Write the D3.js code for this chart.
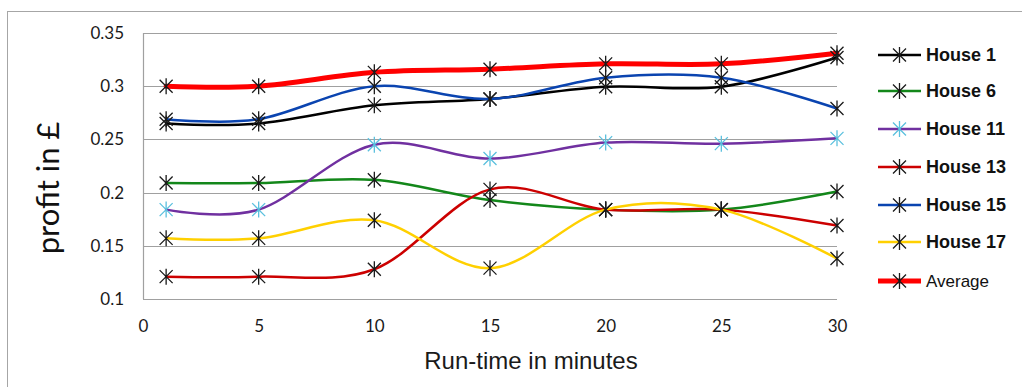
<!DOCTYPE html>
<html><head><meta charset="utf-8">
<script src="https://cdn.jsdelivr.net/npm/d3@7"></script>
<style>body{margin:0;background:#fff}svg{display:block}</style>
</head><body>
<script>
const minutes = [1, 5, 10, 15, 20, 25, 30];
const house1  = [0.265, 0.265, 0.282, 0.288, 0.2995, 0.2995, 0.327];
const house6  = [0.209, 0.209, 0.212, 0.193, 0.184, 0.184, 0.201];
const house11 = [0.184, 0.184, 0.245, 0.232, 0.247, 0.246, 0.251];
const house13 = [0.121, 0.121, 0.128, 0.203, 0.184, 0.184, 0.169];
const house15 = [0.269, 0.269, 0.300, 0.288, 0.308, 0.308, 0.279];
const house17 = [0.157, 0.157, 0.174, 0.129, 0.184, 0.184, 0.138];
const average = [0.300, 0.300, 0.313, 0.316, 0.321, 0.321, 0.331];
const seriesNames = ["House 1","House 6","House 11","House 13","House 15","House 17","Average"];
const xTicks = [0, 5, 10, 15, 20, 25, 30];
const yTicks = [0.1, 0.15, 0.2, 0.25, 0.3, 0.35];
const yTickLabels = ["0.1","0.15","0.2","0.25","0.3","0.35"];

const series = [
  {name: seriesNames[0], values: house1,  color: "#000000", marker: "#1a1a1a", width: 2.5},
  {name: seriesNames[1], values: house6,  color: "#13871a", marker: "#1a1a1a", width: 2.5},
  {name: seriesNames[2], values: house11, color: "#7030a0", marker: "#5bc0de", width: 2.5},
  {name: seriesNames[3], values: house13, color: "#cc0000", marker: "#1a1a1a", width: 2.5},
  {name: seriesNames[4], values: house15, color: "#0a44b0", marker: "#1a1a1a", width: 2.5},
  {name: seriesNames[5], values: house17, color: "#ffd000", marker: "#1a1a1a", width: 2.5},
  {name: seriesNames[6], values: average, color: "#ff0000", marker: "#1a1a1a", width: 5}
];

const W = 1022, H = 387;
const svg = d3.select("body").append("svg").attr("width", W).attr("height", H);
svg.append("rect").attr("x", 7.5).attr("y", 11.5).attr("width", 1030).attr("height", 380)
  .attr("fill", "#fff").attr("stroke", "#a6a6a6").attr("stroke-width", 1);

const x = d3.scaleLinear().domain([0, 30]).range([143, 837]);
const y = d3.scaleLinear().domain([0.1, 0.35]).range([299, 33]);

// gridlines
const grid = svg.append("g");
grid.selectAll("line").data(yTicks).join("line")
  .attr("x1", x(0)).attr("x2", x(30))
  .attr("y1", d => Math.round(y(d)) + 0.5).attr("y2", d => Math.round(y(d)) + 0.5)
  .attr("stroke", "#a0a0a0").attr("stroke-width", 1.2);
grid.append("line").attr("x1", x(0) + 0.5).attr("x2", x(0) + 0.5)
  .attr("y1", y(0.35)).attr("y2", y(0.1)).attr("stroke", "#a0a0a0").attr("stroke-width", 1.2);

// y axis labels
const yAxis = d3.axisLeft(y).tickValues(yTicks).tickSize(0).tickPadding(0)
  .tickFormat((d, i) => yTickLabels[i]);
const gy = svg.append("g").attr("transform", "translate(124,0)").call(yAxis);
gy.select(".domain").remove();
gy.selectAll("text").attr("font-family", "Lato, 'Open Sans', sans-serif").attr("font-size", 17).attr("fill", "#1a1a1a");

// x axis labels
const xAxis = d3.axisBottom(x).tickValues(xTicks).tickSize(0).tickPadding(0).tickFormat(d3.format("d"));
const gx = svg.append("g").attr("transform", "translate(0,320)").call(xAxis);
gx.select(".domain").remove();
gx.selectAll("text").attr("font-family", "Lato, 'Open Sans', sans-serif").attr("font-size", 17).attr("fill", "#1a1a1a");

// titles
svg.append("text").attr("x", 531).attr("y", 369).attr("text-anchor", "middle")
  .attr("font-family", "'Liberation Sans', Arial, sans-serif").attr("font-size", 24).attr("fill", "#1a1a1a")
  .text("Run-time in minutes");
svg.append("text").attr("transform", "translate(59,188) rotate(-90)").attr("text-anchor", "middle")
  .attr("font-family", "Lato, 'Open Sans', sans-serif").attr("font-size", 31).attr("fill", "#111")
  .text("profit in £");

const line = d3.line().x((d, i) => x(minutes[i])).y(d => y(d)).curve(d3.curveCatmullRom.alpha(0));

function star(g, cx, cy, color) {
  const r = 6.5;
  g.append("path")
    .attr("d", `M${cx - r},${cy - r}L${cx + r},${cy + r}M${cx - r},${cy + r}L${cx + r},${cy - r}M${cx},${cy - r - 1.5}L${cx},${cy + r + 1.5}`)
    .attr("stroke", color).attr("stroke-width", 1.3).attr("fill", "none");
}

const plot = svg.append("g");
series.forEach(s => {
  plot.append("path").datum(s.values).attr("d", line)
    .attr("fill", "none").attr("stroke", s.color).attr("stroke-width", s.width)
    .attr("stroke-linecap", "round").attr("stroke-linejoin", "round");
});
series.forEach(s => {
  const g = plot.append("g");
  s.values.forEach((v, i) => star(g, x(minutes[i]), y(v), s.marker));
});

// legend
const legendY = [55, 91, 129, 167, 205, 242, 281];
const lg = svg.append("g");
series.forEach((s, i) => {
  const ly = legendY[i];
  lg.append("line").attr("x1", 878).attr("x2", 921).attr("y1", ly).attr("y2", ly)
    .attr("stroke", s.color).attr("stroke-width", s.width);
  star(lg, 899.5, ly, s.marker);
  const isAvg = s.name === "Average";
  lg.append("text").attr("x", 926).attr("y", ly).attr("dy", "0.36em")
    .attr("font-family", "'Liberation Sans', Arial, sans-serif")
    .attr("font-size", isAvg ? 17 : 18).attr("font-weight", isAvg ? "normal" : "bold")
    .attr("fill", "#111").text(s.name);
});
</script>
</body></html>
